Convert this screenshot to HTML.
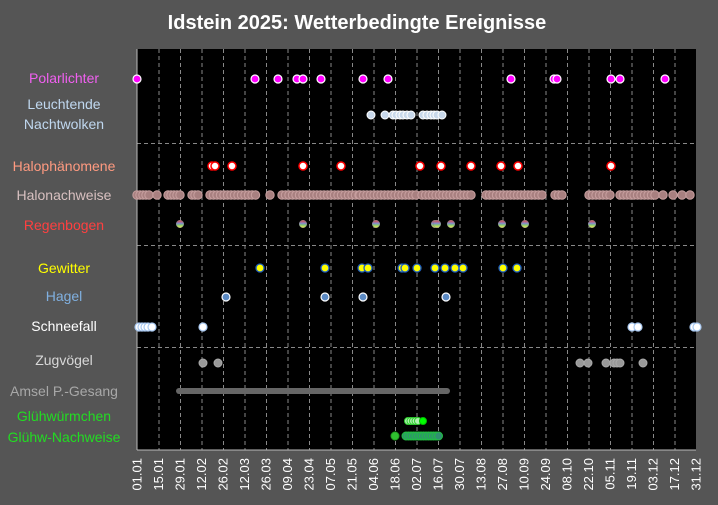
<!DOCTYPE html>
<html><head><meta charset="utf-8"><style>
html,body{margin:0;padding:0;background:#555;}
svg{display:block;font-family:"Liberation Sans",sans-serif;}
</style></head><body>
<svg id="s" width="718" height="505" xmlns="http://www.w3.org/2000/svg">
<rect width="718" height="505" fill="#555"/>
<text x="357" y="29" fill="#fff" font-size="20" font-weight="bold" text-anchor="middle">Idstein 2025:  Wetterbedingte Ereignisse</text>
<rect x="137" y="49" width="559" height="401" fill="#000"/>
<g id="grid" stroke="#888" stroke-dasharray="4,3" stroke-width="1"></g>
<g stroke="#888" stroke-dasharray="4,3">
<line x1="137" y1="143.5" x2="696" y2="143.5"/>
<line x1="137" y1="245.5" x2="696" y2="245.5"/>
<line x1="137" y1="347.5" x2="696" y2="347.5"/>
</g>
<line x1="137" y1="49" x2="137" y2="450" stroke="#bbb"/>
<line x1="137" y1="450" x2="696" y2="450" stroke="#bbb"/>
<g font-size="14" text-anchor="middle">
<text x="64" y="83" fill="#f060f0">Polarlichter</text>
<text x="64" y="109" fill="#c0d8f0">Leuchtende</text>
<text x="64" y="129" fill="#c0d8f0">Nachtwolken</text>
<text x="64" y="171" fill="#ff9a80">Halophänomene</text>
<text x="64" y="200" fill="#d8c0c0">Halonachweise</text>
<text x="64" y="230" fill="#ff4040">Regenbogen</text>
<text x="64" y="273" fill="#ffff00">Gewitter</text>
<text x="64" y="301" fill="#80b0e0">Hagel</text>
<text x="64" y="331" fill="#ffffff">Schneefall</text>
<text x="64" y="365" fill="#d8d8d8">Zugvögel</text>
<text x="64" y="396" fill="#a8a8a8">Amsel P.-Gesang</text>
<text x="64" y="421" fill="#22dd22">Glühwürmchen</text>
<text x="64" y="442" fill="#22dd22">Glühw-Nachweise</text>
</g>
<g id="ticks" font-size="13" fill="#fff"></g>
<line x1="179" y1="391" x2="447" y2="391" stroke="#666" stroke-width="6" stroke-linecap="round"/>
<defs><linearGradient id="rb" x1="0" y1="0" x2="0" y2="1">
<stop offset="0" stop-color="#e04040"/><stop offset="0.45" stop-color="#8090d0"/><stop offset="0.6" stop-color="#80c080"/><stop offset="1" stop-color="#f0f040"/></linearGradient></defs>
<g id="pts"></g>
</svg>
<script>
var NS="http://www.w3.org/2000/svg";
var g=document.getElementById('grid'),t=document.getElementById('ticks'),p=document.getElementById('pts');
var d=["01.01","15.01","29.01","12.02","26.02","12.03","26.03","09.04","23.04","07.05","21.05","04.06","18.06","02.07","16.07","30.07","13.08","27.08","10.09","24.09","08.10","22.10","05.11","19.11","03.12","17.12","31.12"];
for(var i=0;i<d.length;i++){var x=137+i*21.5;
if(i>0&&i<d.length-1){var l=document.createElementNS(NS,'line');l.setAttribute('x1',x+.5);l.setAttribute('x2',x+.5);l.setAttribute('y1',49);l.setAttribute('y2',450);g.appendChild(l);}
var tx=document.createElementNS(NS,'text');tx.setAttribute('transform','translate('+(x+4.5)+',458) rotate(-90)');tx.setAttribute('text-anchor','end');tx.textContent=d[i];t.appendChild(tx);}
function c(xs,y,r,f,s,sw){xs.forEach(function(x){var e=document.createElementNS(NS,'circle');e.setAttribute('cx',x);e.setAttribute('cy',y);e.setAttribute('r',r);e.setAttribute('fill',f);e.setAttribute('stroke',s);e.setAttribute('stroke-width',sw);p.appendChild(e);});}
function rng(a,b,st){var r=[];for(var x=a;x<=b;x+=st)r.push(x);return r;}
c([137,255,278,297,303,321,363,388,511,554,557,611,620,665],79,4,"#ff00ff","#fff",1.2);
c([371,385,393,396,400,403,407,411,423,427,431,434,437,442],115,4,"#c8d8ea","#fff",1);
c([212,215,232,303,341,420,441,471,501,518,611],166,4,"#fff","#f00",1.5);
var h=[].concat(rng(137,150,3),[157],rng(168,180,3),rng(192,198,3),rng(210,256,3.5),[270],rng(282,360,3.5),rng(360,417,3.5),rng(422,474,3.5),rng(486,545,3.5),rng(555,565,3.5),rng(589,612,3.5),rng(620,655,3.5),[663,673,682,690]);
c(h,195,4.2,"#a88080","#c8a0a0",1);
c([180,303,376,435,437,451,502,525,592],224,3.8,"url(#rb)","#888",.5);
c([260,325,362,368,402,405,417,435,445,455,463,503,517],268,4,"#ffff00","#2060c0",1.3);
c([226,325,363,446],297,4,"#5b8ac4","#fff",1.2);
c([139,142,145,148,152,203,632,638,694,697],327,4,"#fff","#a8c8f0",1.2);
c([203,218,580,588,606,614,617,620,643],363,4,"#999","#aaa",1);
c(rng(408,420,2.5),421,3.5,"#b0f0b0","#30d030",1);c([423],421,3.5,"#00ff00","#00c000",1);
c([395],436,4,"#30c030","#20a020",1);c(rng(406,440,2.5),436,4,"#309070","#20c040",1);
</script>
</body></html>
